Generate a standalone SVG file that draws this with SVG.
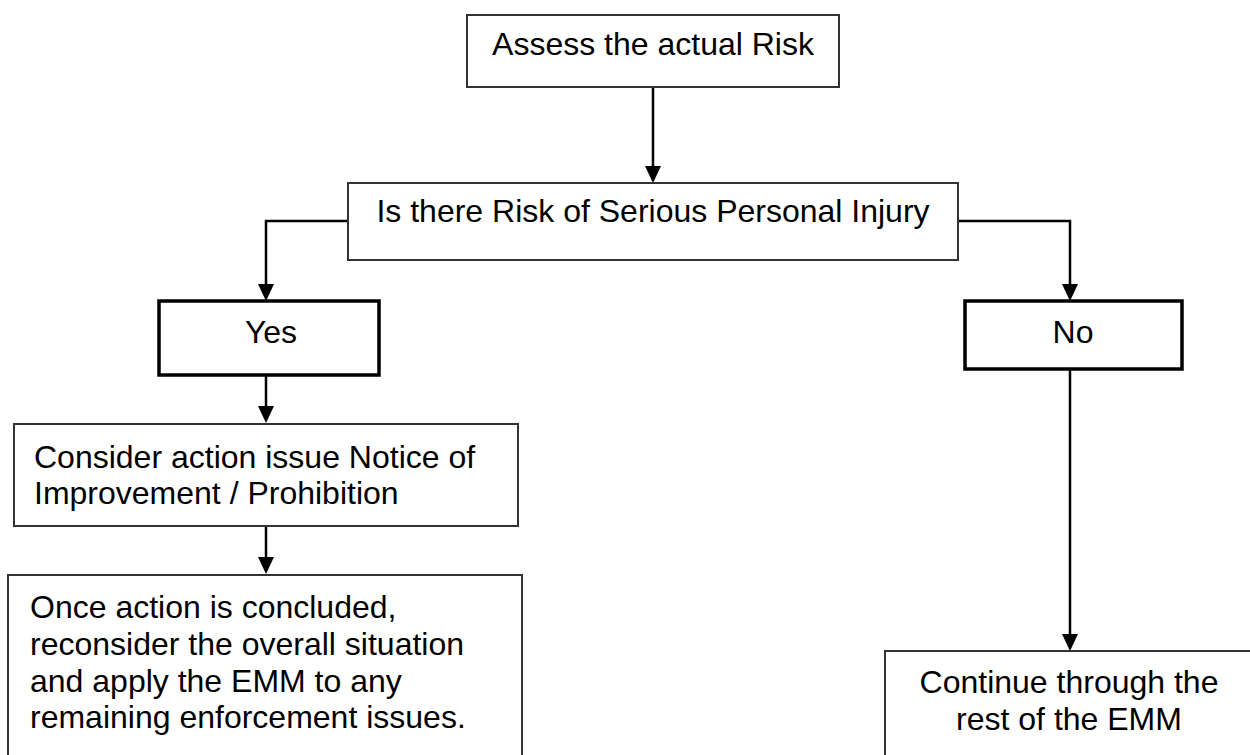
<svg xmlns="http://www.w3.org/2000/svg" width="1250" height="755" viewBox="0 0 1250 755">
<style>
text{font-family:"Liberation Sans",Arial,sans-serif;font-size:32px;fill:#000}
.box{fill:#fff;stroke:#333;stroke-width:2}
.bold{fill:#fff;stroke:#000;stroke-width:3.5}
.c{text-anchor:middle}
.conn{fill:none;stroke:#000;stroke-width:2.5}
</style>
<rect width="1250" height="755" fill="#fff"/>
<g id="connectors">
<path class="conn" d="M653,87 V166"/>
<path d="M645,166 L661,166 L653,183 Z"/>
<path class="conn" d="M348,221 H266 V284"/>
<path d="M258,284 L274,284 L266,301 Z"/>
<path class="conn" d="M958,221 H1070 V284"/>
<path d="M1062,284 L1078,284 L1070,301 Z"/>
<path class="conn" d="M266,375 V406"/>
<path d="M258,406 L274,406 L266,423 Z"/>
<path class="conn" d="M266,526 V557"/>
<path d="M258,557 L274,557 L266,574 Z"/>
<path class="conn" d="M1070,369 V634"/>
<path d="M1062,634 L1078,634 L1070,651 Z"/>
</g>
<g id="assess">
<rect class="box" x="467" y="15" width="372" height="72"/>
<text class="c" x="653" y="55">Assess the actual Risk</text>
</g>
<g id="question">
<rect class="box" x="348" y="183" width="610" height="77"/>
<text class="c" x="653" y="222">Is there Risk of Serious Personal Injury</text>
</g>
<g id="yes">
<rect class="bold" x="159" y="301" width="220" height="74"/>
<text class="c" x="271" y="343">Yes</text>
</g>
<g id="no">
<rect class="bold" x="965" y="301" width="217" height="68"/>
<text class="c" x="1073" y="343">No</text>
</g>
<g id="consider">
<rect class="box" x="14" y="424" width="504" height="102"/>
<text x="34" y="468">Consider action issue Notice of</text>
<text x="34" y="504">Improvement / Prohibition</text>
</g>
<g id="once">
<rect class="box" x="8" y="575" width="514" height="200"/>
<text x="30" y="618">Once action is concluded,</text>
<text x="30" y="655">reconsider the overall situation</text>
<text x="30" y="692">and apply the EMM to any</text>
<text x="30" y="728">remaining enforcement issues.</text>
</g>
<g id="continue">
<rect class="box" x="885" y="651" width="380" height="130"/>
<text class="c" x="1069" y="693">Continue through the</text>
<text class="c" x="1069" y="730">rest of the EMM</text>
</g>
</svg>
